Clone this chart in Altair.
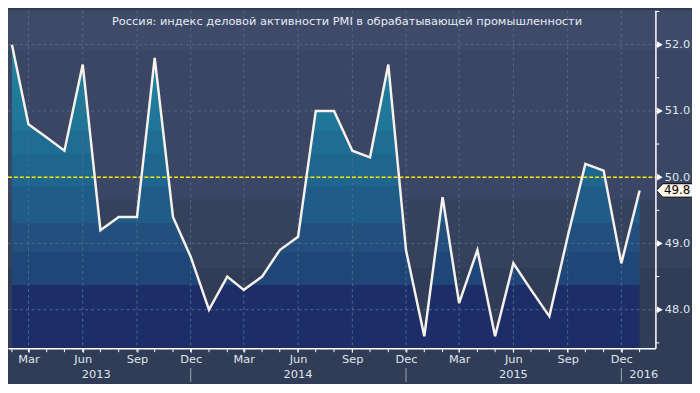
import altair as alt
import pandas as pd

# ---------------- data ----------------
months = [
    "2013-02-01", "2013-03-01", "2013-04-01", "2013-05-01", "2013-06-01", "2013-07-01",
    "2013-08-01", "2013-09-01", "2013-10-01", "2013-11-01", "2013-12-01", "2014-01-01",
    "2014-02-01", "2014-03-01", "2014-04-01", "2014-05-01", "2014-06-01", "2014-07-01",
    "2014-08-01", "2014-09-01", "2014-10-01", "2014-11-01", "2014-12-01", "2015-01-01",
    "2015-02-01", "2015-03-01", "2015-04-01", "2015-05-01", "2015-06-01", "2015-07-01",
    "2015-08-01", "2015-09-01", "2015-10-01", "2015-11-01", "2015-12-01", "2016-01-01",
]
pmi = [
    52.0, 50.8, 50.6, 50.4, 51.7, 49.2,
    49.4, 49.4, 51.8, 49.4, 48.8, 48.0,
    48.5, 48.3, 48.5, 48.9, 49.1, 51.0,
    51.0, 50.4, 50.3, 51.7, 48.9, 47.6,
    49.7, 48.1, 48.9, 47.6, 48.7, 48.3,
    47.9, 49.1, 50.2, 50.1, 48.7, 49.8,
]
title_text = "Россия: индекс деловой активности PMI в обрабатывающей промышленности"
y_minor_ticks = [47.5, 48.5, 49.5, 50.5, 51.5, 52.5]
y_labels = [48.0, 49.0, 50.0, 51.0, 52.0]
reference_level = [50.0]
years = ["2013", "2014", "2015", "2016"]
year_label_dates = ["2013-06-24", "2014-06-01", "2015-06-01", "2016-01-08"]
year_breaks = ["2013-12-01", "2014-12-01", "2015-12-01"]

# ---------------- styles / layout ----------------
W, H = 655, 342
PAD_R, PAD_B = 37, 34
PX_PER_UNIT = 67.05
Y1 = 52.52
Y0 = Y1 - H / PX_PER_UNIT
FONT = "DejaVu Sans"
LAB = "#dfe6ef"
GRID = "#4d6b88"
BG_BOTTOM = "#313c56"

bg_lo = [51.92, 49.66, 48.63]
bg_hi = [Y1, 51.92, 49.66]
bg_col = ["#3f4a68", "#3a4663", "#36415c"]

fill_top = "#20849f"
fill_top_end = "#1f7497"
fill_edges = [50.69, 50.35, 49.86, 49.31, 48.87, 48.37]
fill_cols = ["#1f6d92", "#1e668e", "#1f5d88", "#234f7e", "#1e4778", "#1c2d67"]


def ms(s):
    return int(pd.Timestamp(s).value // 10**6)


def ypx(v):
    return (Y1 - v) / (Y1 - Y0) * H


x_scale = alt.Scale(domain=[ms("2013-01-25 08:00"), ms("2016-01-27 19:00")])
y_scale = alt.Scale(domain=[Y0, Y1], zero=False, nice=False)

# gradient for the area (relative to the area's bounding box)
ytop = ypx(max(pmi))


def off(v):
    return max(0.0, min(1.0, (ypx(v) - ytop) / (H - ytop)))


stops = [alt.GradientStop(offset=0.0, color=fill_top),
         alt.GradientStop(offset=off(fill_edges[0]), color=fill_top_end)]
for i, e in enumerate(fill_edges):
    stops.append(alt.GradientStop(offset=off(e), color=fill_cols[i]))
    nxt = off(fill_edges[i + 1]) if i + 1 < len(fill_edges) else 1.0
    stops.append(alt.GradientStop(offset=nxt, color=fill_cols[i]))
gradient = alt.LinearGradient(gradient="linear", stops=stops, x1=0, x2=0, y1=0, y2=1)

quarters = [m for m in months if int(m[5:7]) in (3, 6, 9, 12)]

df = pd.DataFrame({"date": months, "pmi": pmi})
mdf = pd.DataFrame({"d": [ms(m) for m in months]})
bg_df = pd.DataFrame({"lo": bg_lo, "hi": bg_hi, "c": bg_col})
qdf = pd.DataFrame({"d": [ms(m) for m in quarters]})
hdf = pd.DataFrame({"v": y_labels})
mydf = pd.DataFrame({"v": y_minor_ticks})
ref_df = pd.DataFrame({"v": reference_level})
last_df = df.tail(1)
title_df = pd.DataFrame({"t": [title_text]})
sep_df = pd.DataFrame({"d": [ms(d) for d in year_breaks]})
year_df = pd.DataFrame({"d": [ms(d) for d in year_label_dates], "year": years})

x_axis = alt.Axis(
    values=[ms(m) for m in quarters],
    labelExpr="utcFormat(datum.value, '%b')",
    tickSize=4, tickColor="white", tickWidth=1,
    domainColor="white", domainWidth=1.5,
    labelColor=LAB, labelFont=FONT, labelFontSize=11.5, labelPadding=1,
    labelOverlap=False, labelFlush=False, grid=False, title=None, zindex=1,
)
y_axis = alt.Axis(
    orient="right", values=y_labels, format=".1f",
    tickSize=4, tickColor="white", tickWidth=1,
    domainColor="white", domainWidth=1.5,
    labelColor=LAB, labelFont=FONT, labelFontSize=11.5, labelPadding=5,
    labelOverlap=False, labelFlush=False, grid=False, title=None, zindex=1,
)

X = lambda f: alt.X(f, scale=x_scale)
Y = lambda f: alt.Y(f, scale=y_scale)

bg = alt.Chart(bg_df).mark_rect().encode(
    x=alt.value(0), x2=alt.value(W + PAD_R + 5),
    y=Y("lo:Q"), y2="hi:Q",
    color=alt.Color("c:N", scale=None),
)

area = alt.Chart(df).mark_area(color=gradient).encode(
    x=alt.X("date:T", scale=x_scale, axis=x_axis),
    y=alt.Y("pmi:Q", scale=y_scale, axis=y_axis, stack=None),
    y2=alt.value(H),
)

vgrid = alt.Chart(qdf).mark_rule(color=GRID, strokeDash=[3, 3], strokeWidth=1).encode(
    x=X("d:T"), y=alt.value(0), y2=alt.value(H),
)
hgrid = alt.Chart(hdf).mark_rule(color=GRID, strokeDash=[3, 3], strokeWidth=1).encode(
    y=Y("v:Q"), x=alt.value(0), x2=alt.value(W),
)
ref = alt.Chart(ref_df).mark_rule(color="#f5e60a", strokeDash=[4, 2], strokeWidth=1.5).encode(
    y=Y("v:Q"), x=alt.value(0), x2=alt.value(W),
)

line = alt.Chart(df).mark_line(color="#f6f1ea", strokeWidth=2.5).encode(
    x=X("date:T"), y=Y("pmi:Q"),
)

# minor ticks
xminor = alt.Chart(mdf).mark_rule(color="white", strokeWidth=1).encode(
    x=X("d:T"), y=alt.value(H), y2=alt.value(H + 4),
)
yminor = alt.Chart(mydf).mark_rule(color="white", strokeWidth=1).encode(
    y=Y("v:Q"), x=alt.value(W), x2=alt.value(W + 4),
)

tri = alt.Chart(hdf).mark_point(shape="triangle-right", filled=True, color="white",
                                size=45, opacity=1).encode(
    x=alt.value(W + 4.5), y=Y("v:Q"),
)

box_path = "M-1,0 L-0.68,-0.34 L1,-0.34 L1,0.34 L-0.68,0.34 Z"
box = alt.Chart(last_df).mark_point(shape=box_path, filled=True, fill="#fdf6ea",
                                    stroke="black", strokeWidth=1, size=1600,
                                    opacity=1).encode(
    x=alt.value(W + 21), y=Y("pmi:Q"),
)
box_text = alt.Chart(last_df).mark_text(font=FONT, fontSize=12, color="black",
                                        align="center", baseline="middle").encode(
    x=alt.value(W + 22), y=Y("pmi:Q"),
    text=alt.Text("pmi:Q", format=".1f"),
)

title = alt.Chart(title_df).mark_text(font=FONT, fontSize=11.5, color="#e6ecf3",
                                      align="center", baseline="middle").encode(
    x=alt.value(343), y=alt.value(12), text="t:N",
)

seps = alt.Chart(sep_df).mark_rule(color="#9ea8ba", strokeWidth=1).encode(
    x=X("d:T"), y=alt.value(H + 20), y2=alt.value(H + PAD_B),
)
year_text = alt.Chart(year_df).mark_text(font=FONT, fontSize=11.5, color=LAB,
                                         align="center", baseline="middle").encode(
    x=X("d:T"), y=alt.value(H + 27), text="year:N",
)

chart = alt.layer(
    bg, area, vgrid, hgrid, ref, line, xminor, yminor, tri, box, box_text, title,
    seps, year_text
).properties(
    width=W, height=H,
    padding={"left": 0, "top": 0, "right": PAD_R, "bottom": PAD_B},
    autosize=alt.AutoSizeParams(type="none"),
    background=BG_BOTTOM,
).configure_view(stroke=None)

chart.save("out.html", embed_options={"renderer": "svg", "actions": False})
